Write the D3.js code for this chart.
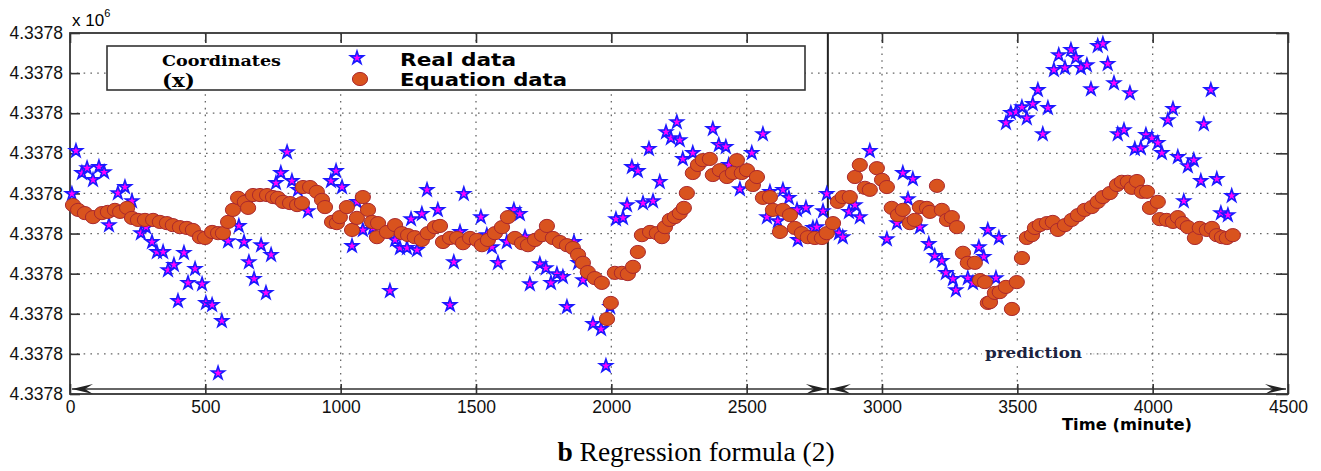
<!DOCTYPE html>
<html>
<head>
<meta charset="utf-8">
<script src="https://cdn.jsdelivr.net/npm/d3@7"></script>
<style>
body{margin:0;background:#fff}
svg{display:block}
.tick text{font-family:"Liberation Sans",Arial,sans-serif;font-size:17.5px;fill:#111}
.tick line{stroke:#333;stroke-width:1.6}
</style>
</head>
<body>
<div id="graphic"></div>
<script>
// values are Y_BASE + offset (units, shown x 10^6)
const Y_BASE = 4337760;
const SPLIT_T = 2800;

const xTicks = [0, 500, 1000, 1500, 2000, 2500, 3000, 3500, 4000, 4500];
const yTicks = [0, 10, 20, 30, 40, 50, 60, 70, 80, 90];
const yTickLabels = ["4.3378","4.3378","4.3378","4.3378","4.3378","4.3378","4.3378","4.3378","4.3378","4.3378"];

const legendLabels = ["Real data", "Equation data"];

// [time (minute), offset]
const realData = [
[22,60.6],[7,49.9],[44,55.1],[63,56.3],[85,53.4],[107,56.6],[126,55.3],[144,42.1],[177,50.1],[203,51.6],
[229,48.1],[262,40.1],[281,41.6],[303,37.9],[321,35.4],[344,35.4],[362,30.9],[384,32.2],[399,23.2],[421,35.2],
[436,27.7],[462,31.2],[488,27.4],[502,22.7],[525,22.2],[561,18.2],[547,5.2],[584,38.1],[624,41.9],[643,37.9],
[661,32.9],[680,28.7],[706,37.1],[724,25.2],[743,34.7],[761,52.6],[779,55.1],[802,60.3],[820,53.1],[842,50.9],
[879,45.6],[964,53.1],[983,55.6],[1005,51.6],[1042,36.9],[1060,47.9],[1082,40.9],[1119,41.4],
[1182,25.7],[1201,38.4],[1219,36.4],[1245,36.4],[1282,35.9],[1260,43.6],[1300,44.9],[1319,50.9],[1359,45.9],[1404,22.2],
[1418,32.9],[1441,40.4],[1455,49.9],[1518,44.1],[1540,39.6],[1559,36.6],[1581,32.7],[1614,37.9],[1640,45.9],[1662,44.9],
[1681,39.1],[1699,27.4],[1736,32.4],[1758,31.4],[1777,27.7],[1799,29.9],[1821,29.2],[1836,21.7],[1862,37.9],[1877,32.7],
[1895,28.4],[1932,17.5],[1962,16.2],[1980,7.0],[1995,21.7],[2017,43.6],[2043,43.9],[2058,47.1],[2076,56.6],[2098,55.6],
[2117,47.6],[2154,48.1],[2139,61.1],[2179,52.9],[2202,65.3],[2220,63.8],[2242,67.8],[2253,63.3],[2264,58.6],
[2301,60.1],[2375,66.1],[2397,62.1],[2423,61.6],[2434,57.1],[2519,60.1],[2560,64.8],[2475,51.1],[2586,50.4],[2634,50.9],
[2656,48.9],[2575,44.1],[2615,43.1],[2686,45.9],[2719,46.4],[2689,38.4],[2745,41.4],[2759,41.6],[2782,45.6],[2796,49.9],
[2841,40.1],[2855,39.1],[2878,45.4],[2900,47.1],[2918,44.1],[2955,60.6],[3018,38.6],[3077,55.1],[3114,53.6],[3096,48.6],
[3055,42.6],[3140,41.6],[3173,37.4],[3195,34.4],[3221,33.2],[3236,30.2],[3262,28.7],[3273,25.9],[3317,28.9],[3336,27.7],
[3358,36.6],[3376,34.2],[3391,40.9],
[3432,38.9],[3421,28.9],[3458,67.6],[3476,70.1],[3495,70.3],[3517,71.5],[3535,68.8],[3557,72.3],[3576,75.8],[3594,64.8],
[3613,71.3],[3635,80.8],[3653,84.5],[3676,81.3],[3698,85.8],[3716,83.8],[3735,81.3],[3757,82.0],[3772,76.0],[3797,86.8],
[3816,87.3],[3834,82.3],[3857,77.5],[3916,75.0],[3871,64.8],[3894,65.8],[3934,61.1],[3956,61.3],[3975,64.6],[3997,63.8],
[4019,62.6],[4034,60.1],[4056,68.3],[4075,71.1],[4093,59.1],[4130,56.8],[4152,58.3],[4115,48.1],[4178,53.1],[4237,53.6],
[4189,67.3],[4215,75.8],[4252,45.1],[4278,44.6],[4292,49.4]
];

const equationData = [
[11,47.1],[30,45.9],[55,45.1],[85,44.1],[118,45.1],[140,45.4],[166,45.9],[185,45.4],[211,46.4],[229,43.9],
[251,43.4],[277,43.4],[307,43.4],[332,42.9],[358,42.6],[380,42.1],[406,41.6],[432,41.4],[454,40.9],[480,39.1],
[499,38.9],[525,40.4],[547,40.1],[565,40.1],[584,42.9],[602,45.9],[621,48.9],[646,47.9],[658,46.4],[676,49.6],
[702,49.6],[728,49.6],[750,49.1],[768,48.9],[787,47.9],[813,47.6],[839,47.1],[857,47.6],[861,51.6],[887,51.6],
[912,50.4],[931,48.4],[942,46.6],[968,42.9],[986,42.6],[997,44.1],[1023,46.6],[1042,40.9],[1060,43.9],[1082,49.1],
[1101,45.9],[1116,42.9],[1134,39.1],[1138,42.6],[1171,40.4],[1201,42.1],[1226,40.1],[1249,39.6],[1274,39.1],[1300,38.4],
[1322,40.1],[1348,41.6],[1367,41.9],[1378,37.9],[1404,38.9],[1430,38.9],[1452,37.6],[1478,38.9],[1503,38.4],[1522,37.1],
[1544,38.4],[1570,40.1],[1596,41.6],[1618,44.1],[1644,38.9],[1670,37.6],[1692,37.1],[1718,38.4],[1744,39.6],[1762,41.9],
[1784,38.9],[1810,37.9],[1836,37.1],[1858,36.4],[1877,34.7],[1895,32.7],[1913,30.4],[1939,28.9],[1965,27.7],[1984,18.7],
[1998,22.7],[2013,30.2],[2039,30.2],[2061,29.9],[2080,31.7],[2098,35.4],[2113,39.6],[2143,40.4],[2168,40.1],[2187,39.1],
[2198,41.6],[2216,43.4],[2235,44.1],[2253,45.1],[2268,46.4],[2279,50.1],[2301,55.1],[2320,57.1],[2338,58.3],[2364,58.6],
[2375,54.6],[2401,55.8],[2427,54.1],[2449,55.1],[2464,58.3],[2482,55.1],[2501,55.8],[2523,52.1],[2538,54.1],[2560,48.9],
[2586,49.1],[2597,45.9],[2623,40.4],[2634,45.9],[2660,44.6],[2678,41.4],[2704,40.1],[2726,39.1],[2752,38.9],[2778,38.9],
[2796,40.1],[2819,42.6],[2837,47.9],[2855,49.1],[2881,49.1],[2900,54.1],[2918,57.1],[2937,51.4],[2955,50.9],[2981,56.3],
[3000,53.4],[3018,51.6],[3036,46.4],[3059,44.6],[3077,45.9],[3103,42.6],[3121,43.4],[3140,46.6],[3166,46.4],[3177,45.4],
[3203,51.9],[3221,45.9],[3240,43.4],[3258,44.1],[3277,41.6],[3299,35.2],[3317,32.7],[3343,32.7],[3362,28.4],[3380,27.9],
[3391,22.7],[3399,22.9],[3417,25.2],[3435,25.4],[3458,26.7],[3480,21.2],[3498,27.9],[3517,33.9],[3535,38.9],[3554,39.6],
[3565,41.4],[3583,42.1],[3609,42.6],[3631,42.9],[3650,40.9],[3676,42.1],[3701,43.4],[3724,44.6],[3749,45.9],[3775,46.6],
[3797,47.9],[3816,49.1],[3842,50.1],[3868,52.1],[3886,52.9],[3908,52.9],[3923,51.4],[3942,53.1],[3960,50.4],[3979,50.4],
[3990,46.4],[4019,47.9],[4026,43.6],[4052,43.4],[4075,42.9],[4093,44.1],[4111,42.6],[4130,41.6],[4156,38.9],[4174,41.4],
[4200,40.9],[4219,41.4],[4237,39.6],[4256,39.1],[4274,38.9],[4296,39.6]
];

const W = 1321, H = 471;
const margin = {top: 33, right: 33, bottom: 77, left: 70};

const STAR_FILL = "#ff00ff", STAR_STROKE = "#1a1aff";
const DOT_FILL = "#d9531e", DOT_STROKE = "#a8282e";
const GRID_DASH = "1.6,5.2";

var svg = d3.select("#graphic").append("svg")
    .attr("width", W).attr("height", H)
    .style("background", "#fff");

var x = d3.scaleLinear().domain([0, 4500]).range([margin.left, W - margin.right]);
var y = d3.scaleLinear().domain([0, 90]).range([H - margin.bottom, margin.top]);

const starPath = d3.symbol().type(d3.symbolStar).size(52)();

// grid
svg.append("g").selectAll("line")
    .data(xTicks.slice(1, -1)).enter().append("line")
    .attr("x1", d => x(d)).attr("x2", d => x(d))
    .attr("y1", y(90)).attr("y2", y(0))
    .attr("stroke", "#666").attr("stroke-width", 1.3)
    .attr("stroke-dasharray", GRID_DASH);
svg.append("g").selectAll("line")
    .data(yTicks.slice(1, -1)).enter().append("line")
    .attr("x1", x(0)).attr("x2", x(4500))
    .attr("y1", d => y(d)).attr("y2", d => y(d))
    .attr("stroke", "#666").attr("stroke-width", 1.3)
    .attr("stroke-dasharray", GRID_DASH);

// axes (ticks point inward)
svg.append("g").attr("transform", `translate(0,${y(0)})`)
    .call(d3.axisBottom(x).tickValues(xTicks).tickSize(-10).tickSizeOuter(0).tickPadding(7)
        .tickFormat(d3.format("d")))
    .call(g => g.select(".domain").remove());
svg.append("g").attr("transform", `translate(0,${y(90)})`)
    .call(d3.axisTop(x).tickValues(xTicks).tickSize(-10).tickSizeOuter(0).tickFormat(""))
    .call(g => g.select(".domain").remove());
svg.append("g").attr("transform", `translate(${x(0)},0)`)
    .call(d3.axisLeft(y).tickValues(yTicks).tickSize(-10).tickSizeOuter(0).tickPadding(7)
        .tickFormat((d, i) => yTickLabels[i]))
    .call(g => g.select(".domain").remove());
svg.append("g").attr("transform", `translate(${x(4500)},0)`)
    .call(d3.axisRight(y).tickValues(yTicks).tickSize(-12).tickSizeOuter(0).tickFormat(""))
    .call(g => g.select(".domain").remove());

svg.append("rect")
    .attr("x", x(0)).attr("y", y(90))
    .attr("width", x(4500) - x(0)).attr("height", y(0) - y(90))
    .attr("fill", "none").attr("stroke", "#333").attr("stroke-width", 1.8);

// exponent label
svg.append("text")
    .attr("x", x(0) + 2).attr("y", 26)
    .style("font-family", "Liberation Sans, Arial, sans-serif").style("font-size", "17px")
    .text("x 10")
    .append("tspan").attr("dy", -9).style("font-size", "11px").text("6");

// split line between fitting and prediction
svg.append("line")
    .attr("x1", x(SPLIT_T)).attr("x2", x(SPLIT_T))
    .attr("y1", y(90)).attr("y2", y(0))
    .attr("stroke", "#222").attr("stroke-width", 2);

// arrows along the bottom
function arrowHead(xTip, yy, dir){
    svg.append("path")
        .attr("d", `M${xTip},${yy} L${xTip - dir*21},${yy - 5} L${xTip - dir*13},${yy} L${xTip - dir*21},${yy + 5} Z`)
        .attr("fill", "#222");
}
var arrowY = y(0) - 5;
[[x(0) + 2, x(SPLIT_T) - 1], [x(SPLIT_T) + 2, x(4500) - 2]].forEach(function(s){
    svg.append("line")
        .attr("x1", s[0]).attr("x2", s[1]).attr("y1", arrowY).attr("y2", arrowY)
        .attr("stroke", "#333").attr("stroke-width", 1.6);
    arrowHead(s[0], arrowY, -1);
    arrowHead(s[1], arrowY, 1);
});

// data
svg.append("g").selectAll("path")
    .data(realData).enter().append("path")
    .attr("d", starPath)
    .attr("transform", d => `translate(${x(d[0])},${y(d[1])})`)
    .attr("fill", STAR_FILL).attr("stroke", STAR_STROKE).attr("stroke-width", 1.6);

svg.append("g").selectAll("ellipse")
    .data(equationData).enter().append("ellipse")
    .attr("cx", d => x(d[0])).attr("cy", d => y(d[1]))
    .attr("rx", 7.6).attr("ry", 6.6)
    .attr("fill", DOT_FILL).attr("stroke", DOT_STROKE).attr("stroke-width", 1);

// legend
var lg = svg.append("g");
lg.append("rect")
    .attr("x", 107).attr("y", 46).attr("width", 698).attr("height", 44)
    .attr("fill", "#fff").attr("stroke", "#333").attr("stroke-width", 1.6);
lg.append("text").attr("x", 162).attr("y", 66)
    .attr("textLength", 119).attr("lengthAdjust", "spacingAndGlyphs")
    .style("font-family", "DejaVu Serif, serif").style("font-weight", "bold").style("font-size", "15.5px")
    .text("Coordinates");
lg.append("text").attr("x", 162).attr("y", 87)
    .attr("textLength", 33).attr("lengthAdjust", "spacingAndGlyphs")
    .style("font-family", "DejaVu Serif, serif").style("font-weight", "bold").style("font-size", "19px")
    .text("(x)");
lg.append("path").attr("d", starPath).attr("transform", "translate(357,58)")
    .attr("fill", STAR_FILL).attr("stroke", STAR_STROKE).attr("stroke-width", 1.6);
lg.append("ellipse").attr("cx", 360).attr("cy", 79).attr("rx", 7.6).attr("ry", 6.6)
    .attr("fill", DOT_FILL).attr("stroke", DOT_STROKE);
const legendWidths = [116, 167];
lg.selectAll(".lab").data(legendLabels).enter().append("text")
    .attr("class", "lab")
    .attr("x", 400).attr("y", (d, i) => 66 + i*20)
    .attr("textLength", (d, i) => legendWidths[i]).attr("lengthAdjust", "spacingAndGlyphs")
    .style("font-family", "DejaVu Sans, Verdana, sans-serif").style("font-weight", "bold").style("font-size", "18px")
    .text(d => d);

// prediction label
svg.append("rect").attr("x", 982).attr("y", y(10) - 9).attr("width", 104).attr("height", 17).attr("fill", "#fff");
svg.append("line")
    .attr("x1", 1086).attr("x2", 1126).attr("y1", y(10)).attr("y2", y(10))
    .attr("stroke", "#ccc").attr("stroke-width", 1.3).attr("stroke-dasharray", GRID_DASH);
svg.append("text").attr("x", 985).attr("y", y(10) + 4)
    .attr("textLength", 97).attr("lengthAdjust", "spacingAndGlyphs")
    .style("font-family", "DejaVu Serif, serif").style("font-weight", "bold").style("font-size", "15px")
    .attr("fill", "#1b2340")
    .text("prediction");

// x axis title
svg.append("text").attr("x", 1062).attr("y", 430)
    .attr("textLength", 130).attr("lengthAdjust", "spacingAndGlyphs")
    .style("font-family", "DejaVu Sans, Verdana, sans-serif").style("font-weight", "bold").style("font-size", "15px")
    .text("Time (minute)");

// caption
var cap = svg.append("text").attr("x", 696).attr("y", 461).attr("text-anchor", "middle")
    .style("font-family", "Liberation Serif, Times New Roman, serif").style("font-size", "27.5px");
cap.append("tspan").style("font-weight", "bold").text("b");
cap.append("tspan").text(" Regression formula (2)");
</script>
</body>
</html>
